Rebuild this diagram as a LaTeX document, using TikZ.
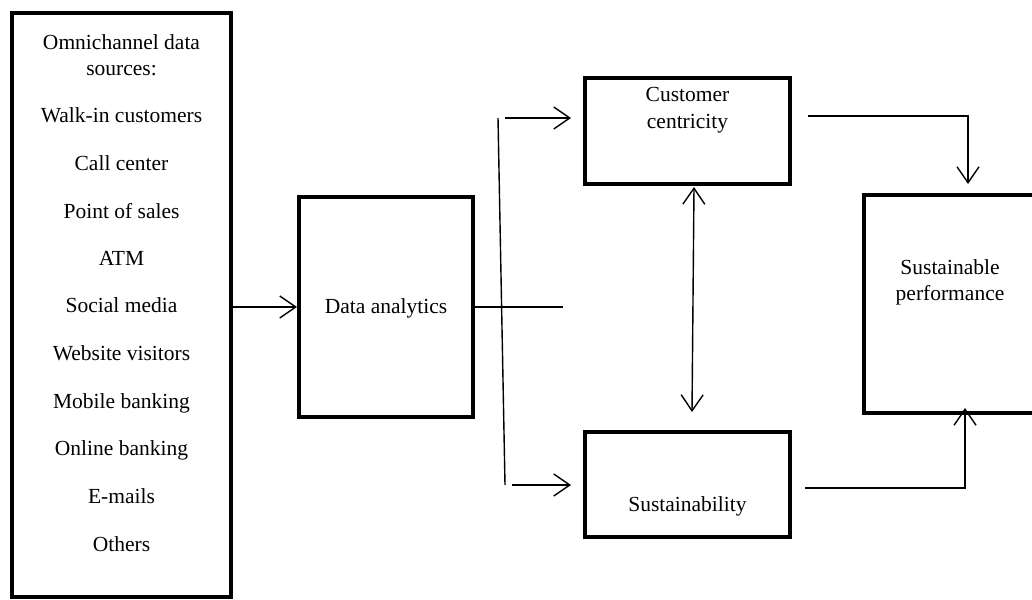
\documentclass[tikz,border=0pt]{standalone}
\usepackage{fontspec}
\setmainfont{Liberation Serif}
\usetikzlibrary{arrows.meta}
\begin{document}
\begin{tikzpicture}[x=1pt,y=-1pt,
  box/.style={draw,line width=4pt,rectangle,inner sep=0pt},
  conn/.style={line width=1.4pt},
  tip/.tip={Straight Barb[length=16pt,width=22pt,line width=1.4pt]},
  arr/.style={conn,-tip},
  darr/.style={conn,tip-tip},
  txt/.style={font=\fontsize{21.5}{26}\selectfont,inner sep=0pt,align=center},
  item/.style={txt,anchor=base}]
\useasboundingbox (0,0) rectangle (1032,599);
\clip (0,0) rectangle (1032,599);
% boxes
\node[box,minimum width=219pt,minimum height=584pt] (src) at (121.5,305) {};
\node[box,minimum width=174pt,minimum height=220pt] (da) at (386,307) {};
\node[box,minimum width=205pt,minimum height=106pt] (cc) at (687.5,131) {};
\node[box,minimum width=205pt,minimum height=105pt] (su) at (687.5,484.5) {};
\node[box,minimum width=172pt,minimum height=218pt] (sp) at (950,304) {};
% texts
\node[txt] (srct) at (121.5,55.5) {Omnichannel data\\sources:};
\node[item] (i1) at (121.5,122) {Walk-in customers};
\node[item] (i2) at (121.5,170) {Call center};
\node[item] (i3) at (121.5,218) {Point of sales};
\node[item] (i4) at (121.5,265) {ATM};
\node[item] (i5) at (121.5,312) {Social media};
\node[item] (i6) at (121.5,360) {Website visitors};
\node[item] (i7) at (121.5,408) {Mobile banking};
\node[item] (i8) at (121.5,455) {Online banking};
\node[item] (i9) at (121.5,503) {E-mails};
\node[item] (i10) at (121.5,551) {Others};
\node[txt] (dat) at (386,308) {Data analytics};
\node[txt,font=\fontsize{21.5}{27}\selectfont] (cct) at (687.5,110.5) {Customer\\centricity};
\node[txt] (sut) at (687.5,506) {Sustainability};
\node[txt] (spt) at (950,282) {Sustainable\\performance};
% coordinates
\coordinate (mid) at (563,307);
\coordinate (st) at (498,118);
\coordinate (sb) at (505,485);
\coordinate (sb2) at (512,485);
\coordinate (ccin) at (571,118);
\coordinate (suin) at (571,485);
\coordinate (dtop) at (694,187);
\coordinate (dbot) at (692,412);
\coordinate (c1) at (808,116);
\coordinate (c2) at (968,116);
\coordinate (c3) at (968,184);
\coordinate (s1) at (805,488);
\coordinate (s2) at (965,488);
\coordinate (s3) at (965,408);
\coordinate (st2) at (505,118);
% connectors
\draw[arr] (src.east |- da.west) -- (da.west);
\draw[conn] (da.east) -- (mid);
\draw[conn] (st) -- (sb);
\draw[arr] (st2) -- (ccin);
\draw[arr] (sb2) -- (suin);
\draw[darr] (dtop) -- (dbot);
\draw[arr] (c1) -- (c2) -- (c3);
\draw[arr] (s1) -- (s2) -- (s3);
\end{tikzpicture}
\end{document}
